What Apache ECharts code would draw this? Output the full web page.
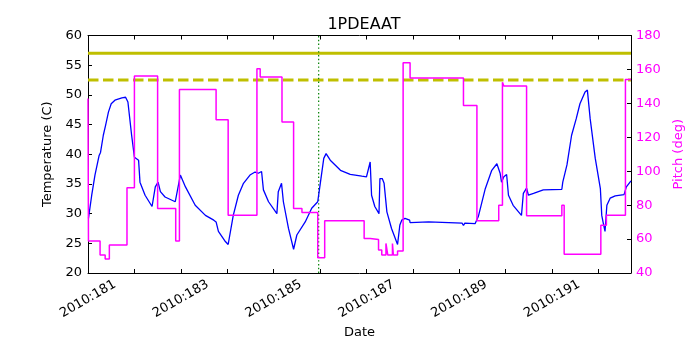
<!DOCTYPE html>
<html lang="en">
  <head>
    <meta charset="UTF-8" />
    <title>1PDEAAT</title>
    <script src="https://cdn.jsdelivr.net/npm/echarts@6/dist/echarts.min.js"></script>
    <style>
      html, body { margin: 0; padding: 0; background: #fff; }
      #main { width: 700px; height: 350px; }
    </style>
  </head>
  <body>
    <div id="main"></div>

    <script>
      // day of year 2010, temperature (C)
      const tempDays = [
        181.01, 181.08, 181.15, 181.24, 181.27, 181.33, 181.38, 181.44, 181.5, 181.58,
        181.73, 181.81, 181.86, 181.94, 182.0, 182.09, 182.12, 182.23, 182.38, 182.41,
        182.45, 182.51, 182.56, 182.66, 182.88, 182.92, 182.99, 183.1, 183.31, 183.53,
        183.71, 183.76, 183.81, 183.96, 184.02, 184.13, 184.24, 184.35, 184.49, 184.6,
        184.67, 184.74, 184.78, 184.89, 185.07, 185.1, 185.17, 185.21, 185.32, 185.43,
        185.5, 185.68, 185.82, 185.95, 186.0, 186.08, 186.13, 186.22, 186.44, 186.65,
        186.9, 187.0, 187.08, 187.11, 187.18, 187.27, 187.29, 187.34, 187.38, 187.44,
        187.54, 187.67, 187.72, 187.76, 187.83, 187.93, 187.94, 187.96, 188.34, 189.06,
        189.09, 189.12, 189.34, 189.37, 189.41, 189.56, 189.7, 189.81, 189.88, 189.91,
        189.96, 190.02, 190.06, 190.16, 190.34, 190.38, 190.45, 190.49, 190.6, 190.81,
        191.21, 191.23, 191.26, 191.32, 191.42, 191.52, 191.6, 191.71, 191.76, 191.82,
        191.93, 192.04, 192.07, 192.11, 192.14, 192.18, 192.25, 192.36, 192.55, 192.6,
        192.7,
      ];
      const tempValues = [
        29.2, 33.1, 36.5, 39.8, 40.3, 43.2, 44.9, 47.1, 48.5, 49.1,
        49.5, 49.6, 48.8, 43.2, 39.5, 39.0, 35.3, 33.1, 31.2, 31.0,
        34.5, 35.3, 33.7, 32.8, 32.0, 31.7, 36.5, 34.5, 31.4, 29.7,
        28.9, 28.6, 27.0, 25.3, 24.8, 29.7, 33.1, 35.1, 36.5, 37.0,
        36.8, 37.1, 34.0, 32.0, 30.0, 33.7, 35.1, 32.0, 27.5, 24.0,
        26.4, 28.6, 30.9, 32.0, 34.8, 39.3, 40.1, 39.0, 37.3, 36.6,
        36.3, 36.2, 38.7, 33.1, 31.2, 30.0, 35.9, 35.9, 35.1, 30.3,
        27.5, 24.8, 28.1, 28.9, 29.2, 28.9, 28.5, 28.8, 28.6, 28.4,
        28.0, 28.4, 28.3, 28.0, 29.5, 34.2, 37.3, 38.4, 36.8, 35.3,
        36.2, 36.6, 33.1, 31.4, 29.7, 33.4, 34.3, 33.1, 33.4, 34.0,
        34.1, 35.3, 35.1, 38.2, 43.2, 46.0, 48.5, 50.5, 50.8, 46.0,
        39.3, 34.2, 29.7, 28.1, 27.0, 31.4, 32.6, 33.0, 33.2, 34.5,
        35.5,
      ];

      // pitch (deg), each value holds from its day until the next one
      const pitchDays = [
        181.0, 181.01, 181.26, 181.37, 181.46, 181.84, 182.0, 182.5, 182.89, 182.97,
        183.76, 184.02, 184.64, 184.71, 185.18, 185.43, 185.61, 185.95, 186.1, 186.95,
        187.08, 187.26, 187.33, 187.42, 187.46, 187.56, 187.58, 187.67, 187.79, 187.94,
        189.09, 189.38, 189.85, 189.93, 189.96, 190.45, 191.21, 191.26, 192.05, 192.17,
        192.58, 192.7,
      ];
      const pitchValues = [
        142.8, 58.8, 50.6, 48.2, 56.5, 90.2, 156.1, 78.0, 58.8, 148.2,
        130.4, 74.1, 160.4, 155.5, 129.0, 78.0, 75.7, 49.0, 70.8, 60.4,
        59.8, 53.5, 50.6, 57.4, 50.6, 57.4, 50.6, 52.9, 163.9, 154.9,
        138.8, 70.8, 80.0, 152.5, 150.2, 73.7, 80.0, 51.0, 68.2, 74.1,
        154.1, 154.1,
      ];

      const dayRange = [181, 192.7];
      const planningLimit = 52.5;
      const cautionLimit = 57;
      const markerDay = 185.97;

      window.onload = () => {
        const chartDom = document.getElementById("main");
        const myChart = echarts.init(chartDom);

        const font = "DejaVu Sans";
        const zip = (xs, ys) => xs.map((x, i) => [x, ys[i]]);
        const frame = { show: true, onZero: false, lineStyle: { color: "#000", width: 1 } };
        const inTicks = { show: true, inside: true, length: 4, lineStyle: { color: "#000" } };

        const option = {
          animation: false,
          backgroundColor: "#fff",
          title: {
            text: "1PDEAAT",
            left: 359,
            textAlign: "center",
            top: 12,
            textStyle: { fontFamily: font, fontSize: 16, fontWeight: "normal", color: "#000" },
          },
          grid: { left: 88, right: 69, top: 35.5, bottom: 77 },
          xAxis: [
            {
              type: "value",
              position: "bottom",
              min: dayRange[0],
              max: dayRange[1],
              interval: 1,
              axisLine: frame,
              axisTick: inTicks,
              splitLine: { show: false },
              axisLabel: {
                showMinLabel: true,
                showMaxLabel: true,
                rotate: 30,
                align: "center",
                verticalAlign: "middle",
                margin: 26,
                fontFamily: font,
                fontSize: 13,
                color: "#000",
                formatter: (v) => ((v - dayRange[0]) % 2 === 0 ? "2010:" + v : ""),
              },
              name: "Date",
              nameLocation: "middle",
              nameGap: 51,
              nameTextStyle: { fontFamily: font, fontSize: 13, color: "#000" },
            },
            {
              type: "value",
              position: "top",
              min: dayRange[0],
              max: dayRange[1],
              interval: 1,
              axisLine: frame,
              axisTick: inTicks,
              axisLabel: { show: false },
              splitLine: { show: false },
            },
          ],
          yAxis: [
            {
              type: "value",
              position: "left",
              min: 20,
              max: 60,
              interval: 5,
              axisLine: frame,
              axisTick: inTicks,
              splitLine: { show: false },
              axisLabel: { margin: 6, fontFamily: font, fontSize: 13, color: "#000" },
              name: "Temperature (C)",
              nameLocation: "middle",
              nameRotate: 90,
              nameGap: 32,
              nameTextStyle: { fontFamily: font, fontSize: 13, color: "#000" },
            },
            {
              type: "value",
              position: "right",
              min: 40,
              max: 180,
              interval: 20,
              axisLine: frame,
              axisTick: inTicks,
              splitLine: { show: false },
              axisLabel: { margin: 5, fontFamily: font, fontSize: 13, color: "#ff00ff" },
              name: "Pitch (deg)",
              nameLocation: "middle",
              nameRotate: 90,
              nameGap: 34,
              nameTextStyle: { fontFamily: font, fontSize: 13, color: "#ff00ff" },
            },
          ],
          series: [
            {
              name: "caution",
              type: "line",
              showSymbol: false,
              data: zip(dayRange, [cautionLimit, cautionLimit]),
              lineStyle: { color: "#bfbf00", width: 3 },
            },
            {
              name: "planning",
              type: "line",
              showSymbol: false,
              data: zip(dayRange, [planningLimit, planningLimit]),
              lineStyle: { color: "#bfbf00", width: 3, type: [10.5, 4.5] },
            },
            {
              name: "now",
              type: "line",
              showSymbol: false,
              data: zip([markerDay, markerDay], [20, 60]),
              lineStyle: { color: "#008000", width: 1.2, type: [1.4, 2.4] },
            },
            {
              name: "temperature",
              type: "line",
              showSymbol: false,
              data: zip(tempDays, tempValues),
              lineStyle: { color: "#0000ff", width: 1.3 },
            },
            {
              name: "pitch",
              type: "line",
              yAxisIndex: 1,
              step: "end",
              showSymbol: false,
              data: zip(pitchDays, pitchValues),
              lineStyle: { color: "#ff00ff", width: 1.5 },
            },
          ],
        };

        option && myChart.setOption(option);
      };
    </script>
  </body>
</html>
